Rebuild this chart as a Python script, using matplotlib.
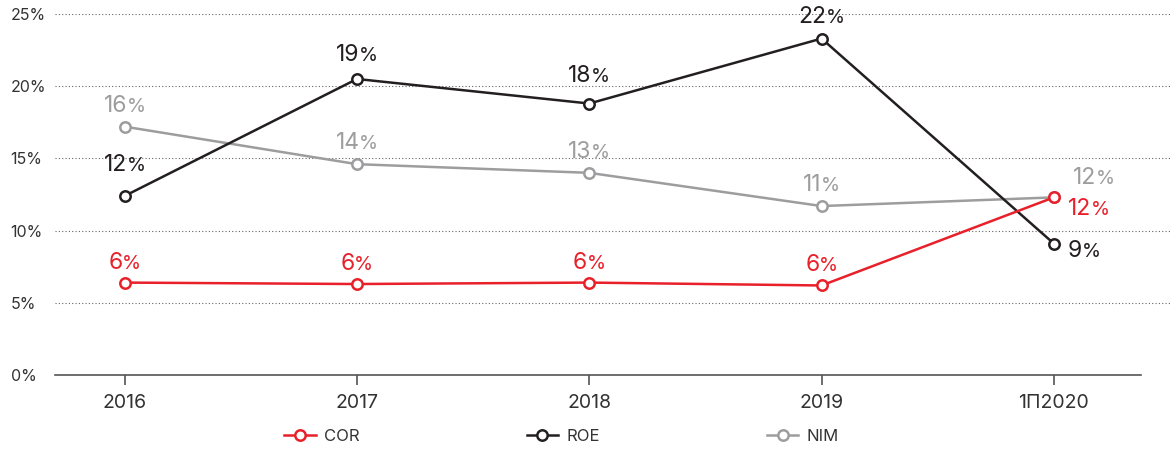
import numpy as np
import matplotlib
matplotlib.use("Agg")
import matplotlib.pyplot as plt
from matplotlib.ticker import FuncFormatter
from matplotlib.offsetbox import TextArea, HPacker, AnnotationBbox

plt.rcParams["font.family"] = ["Inter", "DejaVu Sans"]

years = ["2016", "2017", "2018", "2019", "1П2020"]

# plotted values (%)
cor = [6.4, 6.3, 6.4, 6.2, 12.3]
roe = [12.4, 20.5, 18.8, 23.3, 9.1]
nim = [17.2, 14.6, 14.0, 11.7, 12.3]

# printed labels (the % sign is drawn smaller)
cor_lbl = [6, 6, 6, 6, 12]
roe_lbl = [12, 19, 18, 22, 9]
nim_lbl = [16, 14, 13, 11, 12]

c_cor = "#E8202A"
c_roe = "#231F20"
c_nim = "#9D9D9F"

fig = plt.figure(figsize=(11.75, 4.49), dpi=100)
ax = fig.add_axes([55/1175, 1 - 375/449, (1170 - 55)/1175, (375 - 14)/449])

x = np.arange(len(years))
series = [(cor, cor_lbl, c_cor, "COR"), (roe, roe_lbl, c_roe, "ROE"), (nim, nim_lbl, c_nim, "NIM")]
for vals, lbls, col, name in series[::-1]:
    ax.plot(x, vals, color=col, lw=1.8, marker="o", ms=7.5, mfc="white",
            mec=col, mew=1.8, label=name, clip_on=False, zorder=3)

# label offsets in pixels (dx, dy, horizontal anchor 0..1)
offs = {
    "COR": [(0, 20, 0.5)] * 4 + [(14, -12, 0.0)],
    "ROE": [(0, 31, 0.5), (0, 24, 0.5), (0, 28, 0.5), (0, 22, 0.5), (14, -7, 0.0)],
    "NIM": [(0, 21, 0.5)] * 4 + [(19, 19, 0.0)],
}
for vals, lbls, col, name in series:
    for i, (v, n) in enumerate(zip(vals, lbls)):
        dx, dy, hx = offs[name][i]
        box = HPacker(children=[
            TextArea(str(n), textprops=dict(fontsize=16.5, color=col)),
            TextArea("%", textprops=dict(fontsize=14, color=col)),
        ], align="baseline", pad=0, sep=-0.5)
        ab = AnnotationBbox(box, (x[i], v), xybox=(dx, dy), xycoords="data",
                            boxcoords="offset pixels", box_alignment=(hx, 0.5),
                            frameon=False, pad=0, zorder=4, annotation_clip=False)
        ax.add_artist(ab)

ax.set_xlim(-0.3, 4.5)
ax.set_ylim(0, 25)
ax.set_yticks([0, 5, 10, 15, 20, 25])
ax.yaxis.set_major_formatter(FuncFormatter(lambda v, p: f"{v:.0f}%"))
ax.tick_params(axis="y", length=0, pad=32, labelsize=11.5, labelcolor="#333333")
for lab in ax.get_yticklabels():
    lab.set_horizontalalignment("left")

ax.set_xticks(x)
ax.set_xticklabels(years)
ax.tick_params(axis="x", direction="out", length=7, width=1.2, color="#555555",
               labelsize=14, labelcolor="#333333", pad=7)

for s in ["top", "right", "left"]:
    ax.spines[s].set_visible(False)
ax.spines["bottom"].set_color("#555555")
ax.spines["bottom"].set_linewidth(1.2)
ax.spines["bottom"].set_bounds(-0.3, 4.375)

for yv in [5, 10, 15, 20, 25]:
    ax.axhline(yv, color="#666666", lw=0.8, ls=(0, (1, 2)), zorder=1)

handles, labels = ax.get_legend_handles_labels()
fig.legend(handles[::-1], labels[::-1], loc="center", ncol=3, frameon=False,
           bbox_to_anchor=(0.478, 0.028), fontsize=12, handlelength=1.9,
           handletextpad=0.5, columnspacing=10.0, labelcolor="#333333")

fig.savefig("out.png", dpi=100)
